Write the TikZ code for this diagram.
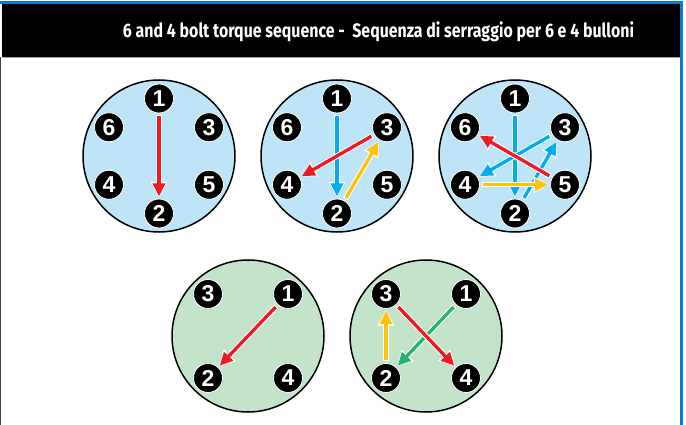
\documentclass[tikz,border=0pt]{standalone}
\usepackage{fontspec}
\setmainfont{Liberation Sans}
\newfontfamily\titlefont{Fira Sans}
\usetikzlibrary{arrows.meta}
\definecolor{plateblue}{RGB}{190,228,248}
\definecolor{plategreen}{RGB}{195,227,203}
\definecolor{seqred}{RGB}{237,28,36}
\definecolor{seqcyan}{RGB}{0,174,239}
\definecolor{seqyellow}{RGB}{255,192,14}
\definecolor{seqgreen}{RGB}{38,179,111}
\definecolor{frameblue}{RGB}{10,124,207}
\tikzset{
  plate/.style={circle, draw=black, line width=1.5pt, minimum size=152pt, inner sep=0pt},
  bolt/.style={circle, fill=black, draw=white, line width=0.8pt, minimum size=29pt, inner sep=0pt,
    text=white, font=\fontsize{23}{23}\selectfont\bfseries},
  seq/.style={line width=3.4pt, shorten <=18pt, shorten >=17pt, -{Triangle[length=13pt,width=12pt]}},
  halo/.style={white, line width=5.4pt, shorten <=17pt, shorten >=16pt, -{Triangle[length=15.5pt,width=15.5pt]}},
}
\newcommand\seqarrow[3]{%
  \draw[halo] (#2.center) -- (#3.center);
  \draw[seq,#1] (#2.center) -- (#3.center);}
\newcommand\hexbolts[1]{%
  \node[bolt] (#1-1) at (0,-57.5) {1};
  \node[bolt] (#1-2) at (0,57.5) {2};
  \node[bolt] (#1-3) at (50,-28.75) {3};
  \node[bolt] (#1-4) at (-50,28.75) {4};
  \node[bolt] (#1-5) at (50,28.75) {5};
  \node[bolt] (#1-6) at (-50,-28.75) {6};}
\newcommand\quadbolts[1]{%
  \node[bolt] (#1-3) at (-40,-42) {3};
  \node[bolt] (#1-1) at (40,-42) {1};
  \node[bolt] (#1-2) at (-40,42) {2};
  \node[bolt] (#1-4) at (40,42) {4};}
\begin{document}
\begin{tikzpicture}[x=1pt,y=-1pt]
\useasboundingbox (0,0) rectangle (686,425);
\fill[white] (0,0) rectangle (686,425);
% frame
\fill[frameblue] (0,1.5) rectangle (683,4.5);
\fill[black] (2,4.5) rectangle (680,57);
\fill[gray!70] (2,57) rectangle (680,58.3);
\fill[frameblue] (680,1.5) rectangle (683,425);
\fill[black!75] (0,57) rectangle (1.3,425);
\node[text=white, inner sep=0pt] (title) at (378.5,32)
  {\resizebox{511pt}{\height}{\titlefont\fontsize{19.5}{19.5}\selectfont\bfseries 6 and 4 bolt torque sequence -~~Sequenza di serraggio per 6 e 4 bulloni}};
% plate A
\begin{scope}[shift={(159,156)}]
  \node[plate, fill=plateblue] (pA) at (0,0) {};
  \hexbolts{A}
\end{scope}
\seqarrow{seqred}{A-1}{A-2}
% plate B
\begin{scope}[shift={(337,156)}]
  \node[plate, fill=plateblue] (pB) at (0,0) {};
  \hexbolts{B}
\end{scope}
\seqarrow{seqcyan}{B-1}{B-2}
\seqarrow{seqred}{B-3}{B-4}
\seqarrow{seqyellow}{B-2}{B-3}
% plate C
\begin{scope}[shift={(515,156)}]
  \node[plate, fill=plateblue] (pC) at (0,0) {};
  \hexbolts{C}
\end{scope}
\seqarrow{seqcyan}{C-1}{C-2}
\seqarrow{seqcyan}{C-3}{C-4}
\seqarrow{seqcyan}{C-2}{C-3}
\seqarrow{seqyellow}{C-4}{C-5}
\seqarrow{seqred}{C-5}{C-6}
% plate D
\begin{scope}[shift={(248,336)}]
  \node[plate, fill=plategreen] (pD) at (0,0) {};
  \quadbolts{D}
\end{scope}
\seqarrow{seqred}{D-1}{D-2}
% plate E
\begin{scope}[shift={(426,336)}]
  \node[plate, fill=plategreen] (pE) at (0,0) {};
  \quadbolts{E}
\end{scope}
\seqarrow{seqgreen}{E-1}{E-2}
\seqarrow{seqyellow}{E-2}{E-3}
\seqarrow{seqred}{E-3}{E-4}
\end{tikzpicture}
\end{document}
